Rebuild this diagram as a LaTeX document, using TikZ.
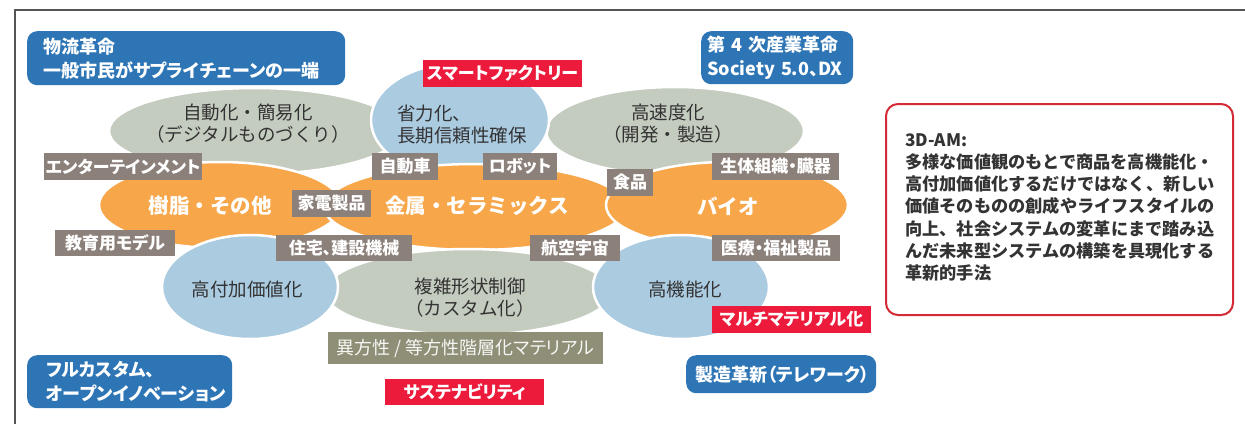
\documentclass[tikz,border=0pt]{standalone}
\usepackage{fontspec}
\setmainfont{Noto Sans CJK JP}[RawFeature=+palt]
\newfontfamily\jpfull{Noto Sans CJK JP}
\usetikzlibrary{shapes.geometric}
\definecolor{greyell}{HTML}{C4CBBF}
\definecolor{blueell}{HTML}{ABCBE1}
\definecolor{orangeell}{HTML}{F7A64A}
\definecolor{boxblue}{HTML}{2E75B6}
\definecolor{labgrey}{HTML}{8C807B}
\definecolor{olivelab}{HTML}{8F8F77}
\definecolor{tagred}{HTML}{EC1B3B}
\definecolor{edgered}{HTML}{D42A35}
\definecolor{txtdark}{HTML}{333333}
\definecolor{framegrey}{HTML}{555555}
\begin{document}
\begin{tikzpicture}[x=1pt,y=-1pt,
  ell/.style={ellipse, draw=white, line width=2.5pt, inner sep=0pt},
  elltext/.style={text=txtdark, align=center, font=\jpfull\fontsize{18.5}{22}\selectfont, inner sep=0pt},
  oratext/.style={text=white, font=\jpfull\bfseries\fontsize{20.5}{24}\selectfont, inner sep=0pt},
  lab/.style={fill=labgrey, text=white, inner sep=0pt, font=\bfseries\fontsize{17}{20}\selectfont, minimum height=27pt},
  tagbox/.style={fill=tagred, text=white, inner sep=0pt, font=\bfseries\fontsize{17}{20}\selectfont, minimum height=27pt},
  bluebox/.style={fill=boxblue, text=white, rounded corners=10pt, font=\bfseries\fontsize{18}{24}\selectfont, align=left, anchor=north west, inner ysep=0pt},
]
\useasboundingbox (0,0) rectangle (1245,424);
\fill[white] (0,0) rectangle (1245,424);
% frame
\draw[framegrey, line width=1.2pt] (15,424) -- (15,10) -- (1245,10);

% top row ellipses
\node[ell, fill=greyell, minimum width=292pt, minimum height=86pt] (gA) at (255,131) {};
\node[ell, fill=greyell, minimum width=258pt, minimum height=88pt] (gB) at (675,131) {};
\node[ell, fill=blueell, minimum width=178pt, minimum height=114pt] (bA) at (460,120) {};
% orange ellipses
\node[ell, fill=orangeell, minimum width=242pt, minimum height=86pt] (oA) at (220,205) {};
\node[ell, fill=orangeell, minimum width=302pt, minimum height=86pt] (oB) at (475,207) {};
\node[ell, fill=orangeell, minimum width=242pt, minimum height=86pt] (oC) at (727,205) {};
% bottom row ellipses
\node[ell, fill=greyell, minimum width=286pt, minimum height=86pt] (gC) at (468,292) {};
\node[ell, fill=blueell, minimum width=176pt, minimum height=104pt] (bB) at (250,287) {};
\node[ell, fill=blueell, minimum width=176pt, minimum height=104pt] (bC) at (681,287) {};

% ellipse texts
\node[elltext] (tgA) at (248,124) {自動化・簡易化\\（デジタルものづくり）};
\node[elltext, align=left, anchor=west] (tbA) at (397,124) {省力化、\\長期信頼性確保};
\node[elltext] (tgB) at (668,124) {高速度化\\（開発・製造）};
\node[oratext] (toA) at (210,206) {樹脂・その他};
\node[oratext] (toB) at (477,206) {金属・セラミックス};
\node[oratext] (toC) at (728,206) {バイオ};
\node[elltext] (tbB) at (247,289) {高付加価値化};
\node[elltext] (tgC) at (470,298) {複雑形状制御\\（カスタム化）};
\node[elltext] (tbC) at (685,289) {高機能化};

% grey labels
\node[lab, minimum width=158pt] (l1) at (123,166.5) {エンターテインメント};
\node[lab, minimum width=79pt] (l2) at (331.5,203.5) {家電製品};
\node[lab, minimum width=66pt] (l3) at (405,166.5) {自動車};
\node[lab, minimum width=74pt] (l4) at (520,166.5) {ロボット};
\node[lab, minimum width=46pt] (l5) at (630,182.5) {食品};
\node[lab, minimum width=127pt] (l6) at (775.5,166.5) {生体組織・臓器};
\node[lab, minimum width=120pt, minimum height=26pt] (l7) at (115,243) {教育用モデル};
\node[lab, minimum width=136pt, minimum height=26pt] (l8) at (344,248) {住宅、建設機械};
\node[lab, minimum width=90pt, minimum height=26pt] (l9) at (575,248) {航空宇宙};
\node[lab, minimum width=128pt, minimum height=26pt] (l10) at (776,248) {医療・福祉製品};
\node[fill=olivelab, text=white!92!olivelab, inner sep=0pt, minimum width=275pt, minimum height=32pt, font=\fontsize{18}{20}\selectfont] (l11) at (465.5,348) {異方性 / 等方性階層化マテリアル};

% red tags
\node[tagbox, minimum width=159pt] (r1) at (502.5,73.5) {スマートファクトリー};
\node[tagbox, minimum width=159pt] (r2) at (791.5,319.5) {マルチマテリアル化};
\node[tagbox, minimum width=159pt, minimum height=26pt] (r3) at (464.5,392) {サステナビリティ};

% blue boxes
\node[bluebox, inner xsep=16pt, text width=286pt, minimum height=54pt] (b1) at (27,31) {物流革命\\一般市民がサプライチェーンの一端};
\node[bluebox, inner xsep=6pt, text width=140pt, minimum height=53pt] (b2) at (701,31) {第 4 次産業革命\\Society 5.0、DX};
\node[bluebox, inner xsep=19pt, text width=167pt, minimum height=53pt] (b3) at (27,355) {フルカスタム、\\オープンイノベーション};
\node[bluebox, inner xsep=9pt, text width=172pt, minimum height=38pt, align=center] (b4) at (686,355) {製造革新（テレワーク）};

% 3D-AM box
\node[draw=edgered, line width=2pt, rounded corners=12pt, fill=white, minimum width=347pt, minimum height=211pt, anchor=north west, inner sep=0pt] (am) at (885,103) {};
\node[anchor=north west, inner sep=0pt, text=txtdark, align=left, font=\jpfull\bfseries\fontsize{17.2}{22.3}\selectfont] (amt) at (905,133) {3D-AM:\\多様な価値観のもとで商品を高機能化・\\高付加価値化するだけではなく、新しい\\価値そのものの創成やライフスタイルの\\向上、社会システムの変革にまで踏み込\\んだ未来型システムの構築を具現化する\\革新的手法};
\end{tikzpicture}
\end{document}
